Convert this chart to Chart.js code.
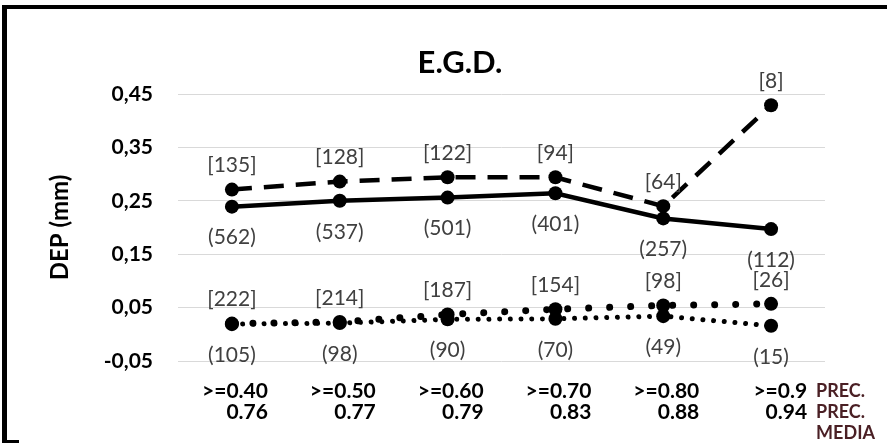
<!DOCTYPE html>
<html>
<head>
<meta charset="utf-8">
<script src="https://cdn.jsdelivr.net/npm/chart.js@4.4.1/dist/chart.umd.min.js"></script>
<style>
  html, body { margin: 0; padding: 0; background: #fff; }
  canvas { display: block; }
</style>
</head>
<body>
<canvas id="c" width="887" height="443"></canvas>
<script>
// Categories: precision threshold and mean precision of each group
const precLabels  = ['>=0.40', '>=0.50', '>=0.60', '>=0.70', '>=0.80', '>=0.9'];
const mediaLabels = ['0.76', '0.77', '0.79', '0.83', '0.88', '0.94'];

// Y axis tick values (mm)
const yTicks = [-0.05, 0.05, 0.15, 0.25, 0.35, 0.45];

// Solid line: DEP, sample size shown in parentheses
const solidValues = [0.239, 0.250, 0.256, 0.264, 0.217, 0.197];
const solidCounts = [562, 537, 501, 401, 257, 112];

// Dashed line: DEP, sample size shown in brackets
const dashedValues = [0.271, 0.286, 0.294, 0.294, 0.240, 0.429];
const dashedCounts = [135, 128, 122, 94, 64, 8];

// Dotted lines near zero
const dotUpperValues = [0.020, 0.023, 0.037, 0.047, 0.054, 0.057];
const dotUpperCounts = [222, 214, 187, 154, 98, 26];
const dotLowerValues = [0.019, 0.021, 0.028, 0.029, 0.034, 0.016];
const dotLowerCounts = [105, 98, 90, 70, 49, 15];

const FONT = 'Lato, "Open Sans", sans-serif';

// Outer frame lines (top, left and a short stub at the bottom-left)
const framePlugin = {
  id: 'frame',
  beforeDraw(chart) {
    const ctx = chart.ctx;
    ctx.save();
    ctx.fillStyle = '#fff';
    ctx.fillRect(0, 0, chart.width, chart.height);
    ctx.fillStyle = '#000';
    ctx.fillRect(2, 5, chart.width - 2, 4);
    ctx.fillRect(2, 5, 5, chart.height - 5);
    ctx.fillRect(2, chart.height - 3, 17, 3);
    ctx.restore();
  }
};

// Chart heading
const headingPlugin = {
  id: 'heading',
  afterDraw(chart) {
    const ctx = chart.ctx;
    ctx.save();
    ctx.font = 'bold 31px ' + FONT;
    ctx.fillStyle = '#000';
    ctx.textAlign = 'center';
    ctx.textBaseline = 'middle';
    ctx.fillText('E.G.D.', 460, 63);
    ctx.restore();
  }
};

// Row captions to the right of the category labels
const rowCaptionPlugin = {
  id: 'rowCaption',
  afterDraw(chart) {
    const xs = chart.scales.x;
    const ctx = chart.ctx;
    const lh = 21;
    const y0 = xs.top + 20 + lh / 2;
    ctx.save();
    ctx.font = 'bold 18px ' + FONT;
    ctx.fillStyle = '#4a1f24';
    ctx.textAlign = 'left';
    ctx.textBaseline = 'middle';
    const x = xs.getPixelForValue(5) + 45;
    ctx.fillText('PREC.', x, y0);
    ctx.fillText('PREC.', x, y0 + lh);
    ctx.fillText('MEDIA', x, y0 + lh * 2);
    ctx.restore();
  }
};

// Count labels above ("above") or below ("below") each point
const countLabelPlugin = {
  id: 'countLabels',
  afterDatasetsDraw(chart) {
    const ctx = chart.ctx;
    ctx.save();
    ctx.font = '21px ' + FONT;
    ctx.fillStyle = '#404040';
    ctx.textAlign = 'center';
    ctx.textBaseline = 'middle';
    chart.data.datasets.forEach((ds, i) => {
      const meta = chart.getDatasetMeta(i);
      meta.data.forEach((pt, j) => {
        const n = ds.counts[j];
        const txt = ds.labelSide === 'above' ? '[' + n + ']' : '(' + n + ')';
        const dy = ds.labelSide === 'above' ? -24 : 31;
        ctx.fillText(txt, pt.x, pt.y + dy);
      });
    });
    ctx.restore();
  }
};

const common = {
  borderColor: '#000',
  backgroundColor: '#000',
  pointBackgroundColor: '#000',
  pointBorderWidth: 0,
  pointRadius: 7,
  pointHoverRadius: 7,
  tension: 0,
  fill: false,
  borderCapStyle: 'round'
};

new Chart(document.getElementById('c'), {
  type: 'line',
  data: {
    labels: precLabels.map((p, i) => [p, mediaLabels[i]]),
    datasets: [
      Object.assign({}, common, {
        label: 'DEP (n)', data: solidValues, counts: solidCounts, labelSide: 'below',
        borderWidth: 4.5, borderCapStyle: 'butt'
      }),
      Object.assign({}, common, {
        label: 'DEP [n]', data: dashedValues, counts: dashedCounts, labelSide: 'above',
        borderWidth: 4.5, borderDash: [20, 12], borderCapStyle: 'butt'
      }),
      Object.assign({}, common, {
        label: 'dotted [n]', data: dotUpperValues, counts: dotUpperCounts, labelSide: 'above',
        borderWidth: 7, borderDash: [0.01, 21]
      }),
      Object.assign({}, common, {
        label: 'dotted (n)', data: dotLowerValues, counts: dotLowerCounts, labelSide: 'below',
        borderWidth: 5, borderDash: [0.01, 10.7]
      })
    ]
  },
  options: {
    responsive: false,
    animation: false,
    devicePixelRatio: 1,
    layout: { padding: { top: 94, right: 62, bottom: 0, left: 0 } },
    plugins: {
      legend: { display: false },
      tooltip: { enabled: false },
      title: { display: false }
    },
    scales: {
      x: {
        type: 'category',
        offset: true,
        grid: { display: false, drawTicks: false },
        border: { display: false },
        afterFit(s) { s.height = 82; },
        ticks: {
          align: 'end',
          labelOffset: 36,
          padding: 20,
          maxRotation: 0,
          autoSkip: false,
          color: '#000',
          font: { family: FONT, size: 21, weight: 'bold', lineHeight: 1.0 }
        }
      },
      y: {
        min: -0.05,
        max: 0.45,
        afterBuildTicks(s) { s.ticks = yTicks.map(v => ({ value: v })); },
        afterFit(s) { s.width = 178; },
        grid: { color: '#d9d9d9', lineWidth: 1, drawTicks: false },
        border: { display: false },
        ticks: {
          padding: 25,
          color: '#000',
          font: { family: FONT, size: 21, weight: 'bold' },
          callback: v => v.toFixed(2).replace('.', ',')
        },
        title: {
          display: true,
          text: 'DEP (mm)',
          color: '#000',
          font: { family: FONT, size: 24, weight: 'bold' },
          padding: { top: 46, bottom: 0 }
        }
      }
    }
  },
  plugins: [framePlugin, countLabelPlugin, headingPlugin, rowCaptionPlugin]
});
</script>
</body>
</html>
